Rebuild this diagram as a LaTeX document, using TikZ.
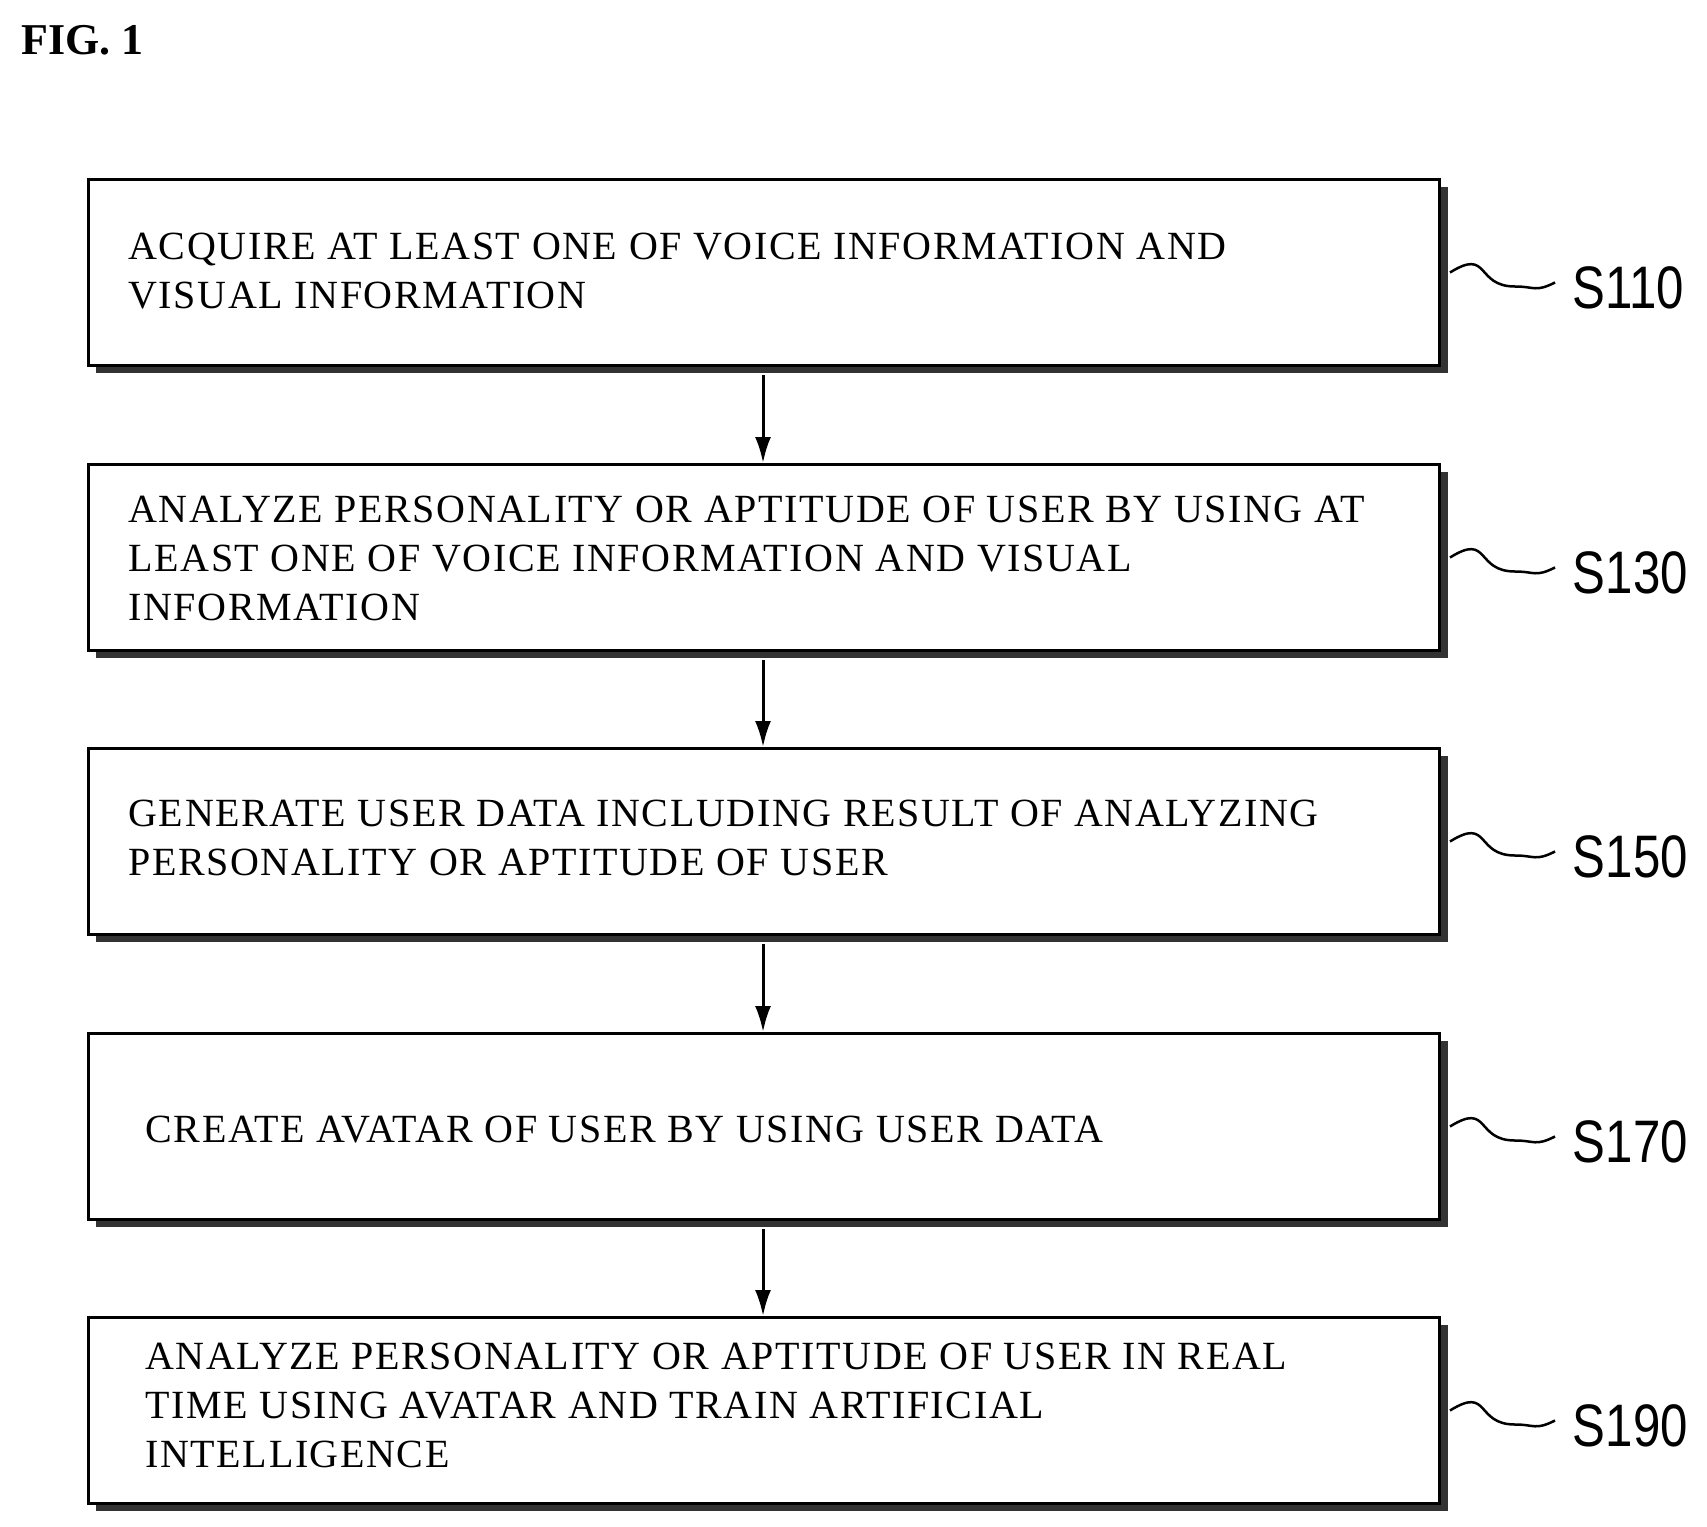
\documentclass[tikz,border=0pt]{standalone}
\usepackage{fontspec}
\setmainfont{Liberation Serif}
\newfontfamily\lab{Liberation Sans}
\usetikzlibrary{arrows.meta}
\begin{document}
\begin{tikzpicture}[x=1pt,y=-1pt,
 box/.style={draw,line width=3pt,minimum width=1351pt,minimum height=186pt,anchor=north west},
 txt/.style={anchor=west,align=left,font=\addfontfeatures{LetterSpace=4}\fontsize{40}{49}\selectfont},
 lbl/.style={font=\lab\fontsize{60}{60}\selectfont,xscale=0.82,anchor=west},
 arr/.style={line width=3pt,-{Latex[length=26pt,width=16pt]}}]
\useasboundingbox (0,0) rectangle (1707,1526);
\node[font=\bfseries\fontsize{44}{48}\selectfont,anchor=west] (fig) at (18,40) {FIG. 1};
\foreach \n/\y/\s in {1/178/S110,2/463/S130,3/747/S150,4/1032/S170,5/1316/S190}{
 \fill[black!80] (96,\y+9) rectangle (1448,\y+195);
 \node[box,fill=white] (b\n) at (87,\y) {};
 \draw[line width=2.5pt] (b\n.east) ++(9,0) .. controls +(40,-25) and +(-40,0) .. ++(65,14) .. controls +(20,0) and +(-20,10) .. ++(40,-4) coordinate (c\n);
 \node[lbl] (l\n) at (1570,\y+110) {\s};
}
\node[txt] (t1) at (125,271) {ACQUIRE AT LEAST ONE OF VOICE INFORMATION AND\\VISUAL INFORMATION};
\node[txt] (t2) at (125,558) {ANALYZE PERSONALITY OR APTITUDE OF USER BY USING AT\\LEAST ONE OF VOICE INFORMATION AND VISUAL\\INFORMATION};
\node[txt] (t3) at (125,838) {GENERATE USER DATA INCLUDING RESULT OF ANALYZING\\PERSONALITY OR APTITUDE OF USER};
\node[txt] (t4) at (142,1130) {CREATE AVATAR OF USER BY USING USER DATA};
\node[txt] (t5) at (142,1405) {ANALYZE PERSONALITY OR APTITUDE OF USER IN REAL\\TIME USING AVATAR AND TRAIN ARTIFICIAL\\INTELLIGENCE};
\foreach \a/\b in {1/2,2/3,3/4,4/5}{
 \draw[arr] ([xshift=-1pt]b\a.south) ++(0,8) -- ([xshift=-1pt]b\b.north);
}
\end{tikzpicture}
\end{document}
